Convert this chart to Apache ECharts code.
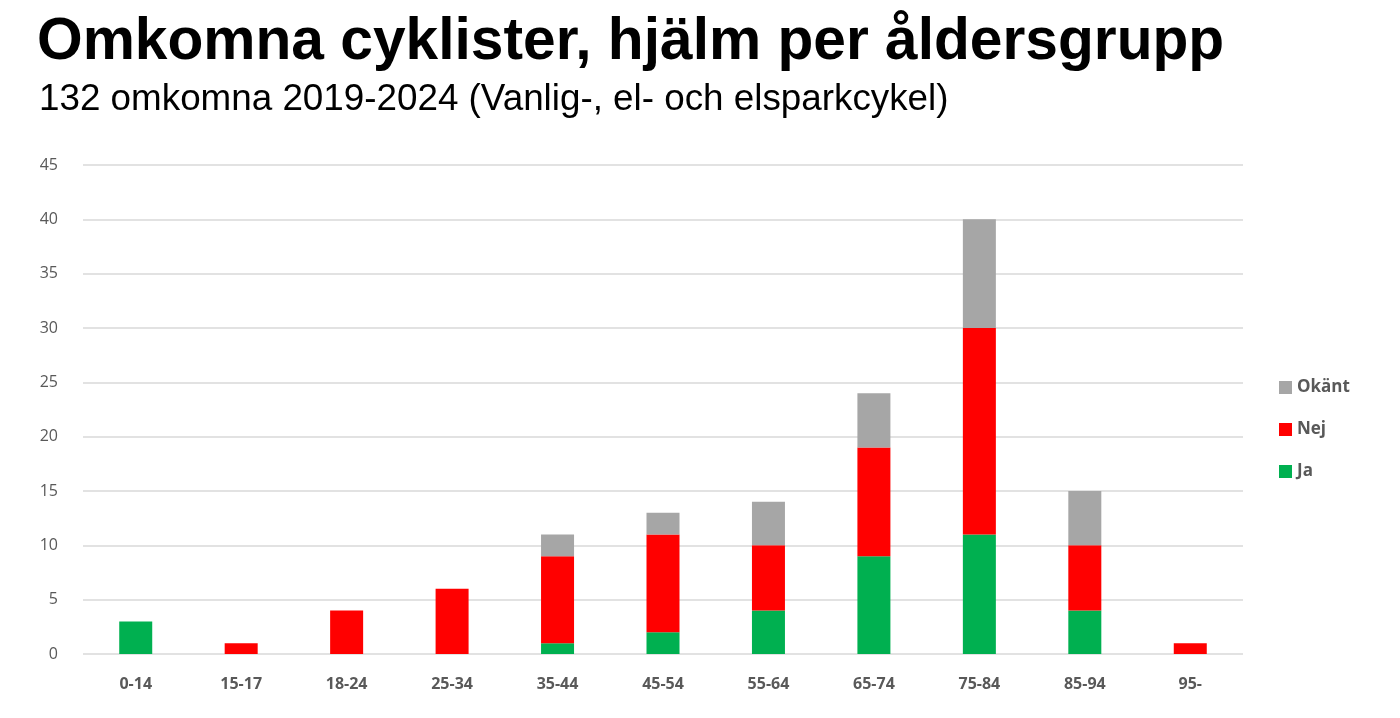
<!DOCTYPE html>
<html>
<head>
<meta charset="utf-8">
<script src="https://cdn.jsdelivr.net/npm/echarts@6/dist/echarts.min.js"></script>
<style>
  html, body { margin: 0; padding: 0; background: #fff; }
  #chart { width: 1400px; height: 718px; }
</style>
</head>
<body>
<div id="chart"></div>
<script>
var categories = ['0-14', '15-17', '18-24', '25-34', '35-44', '45-54', '55-64', '65-74', '75-84', '85-94', '95-'];
var ja    = [3, 0, 0, 0, 1, 2, 4, 9, 11, 4, 0];
var nej   = [0, 1, 4, 6, 8, 9, 6, 10, 19, 6, 1];
var okant = [0, 0, 0, 0, 2, 2, 4, 5, 10, 5, 0];

var chart = echarts.init(document.getElementById('chart'));

function barSeries(name, data, color) {
  return {
    name: name,
    type: 'bar',
    stack: 'total',
    barWidth: 33,
    itemStyle: { color: color },
    data: data.map(function (v) { return v === 0 ? null : v; })
  };
}

chart.setOption({
  animation: false,
  title: [{
    text: 'Omkomna cyklister, hjälm per åldersgrupp',
    left: 32, top: 8,
    textStyle: { fontFamily: 'Liberation Sans', fontWeight: 'bold', fontSize: 58.7, color: '#000' }
  }, {
    text: '132 omkomna 2019-2024 (Vanlig-, el- och elsparkcykel)',
    left: 34, top: 76,
    textStyle: { fontFamily: 'Liberation Sans', fontWeight: 'normal', fontSize: 36.8, color: '#000' }
  }],
  legend: {
    orient: 'vertical',
    left: 1274, top: 374,
    itemWidth: 13, itemHeight: 13,
    itemGap: 25,
    icon: 'rect',
    data: ['Okänt', 'Nej', 'Ja'],
    textStyle: { fontFamily: 'Open Sans', fontWeight: 'bold', fontSize: 17, color: '#595959' }
  },
  grid: { left: 83, right: 157, top: 165, bottom: 64 },
  xAxis: {
    type: 'category',
    data: categories,
    axisLine: { show: false },
    axisTick: { show: false },
    axisLabel: { margin: 22, fontFamily: 'Open Sans', fontWeight: 'bold', fontSize: 16, color: '#595959' }
  },
  yAxis: {
    type: 'value',
    min: 0, max: 45, interval: 5,
    axisLine: { show: false },
    axisTick: { show: false },
    axisLabel: { margin: 25, fontFamily: 'Open Sans', fontSize: 16, color: '#595959' },
    splitLine: { lineStyle: { color: '#d9d9d9', width: 1.5 } }
  },
  series: [
    barSeries('Ja', ja, '#00B050'),
    barSeries('Nej', nej, '#FF0000'),
    barSeries('Okänt', okant, '#A6A6A6')
  ]
});
</script>
</body>
</html>
